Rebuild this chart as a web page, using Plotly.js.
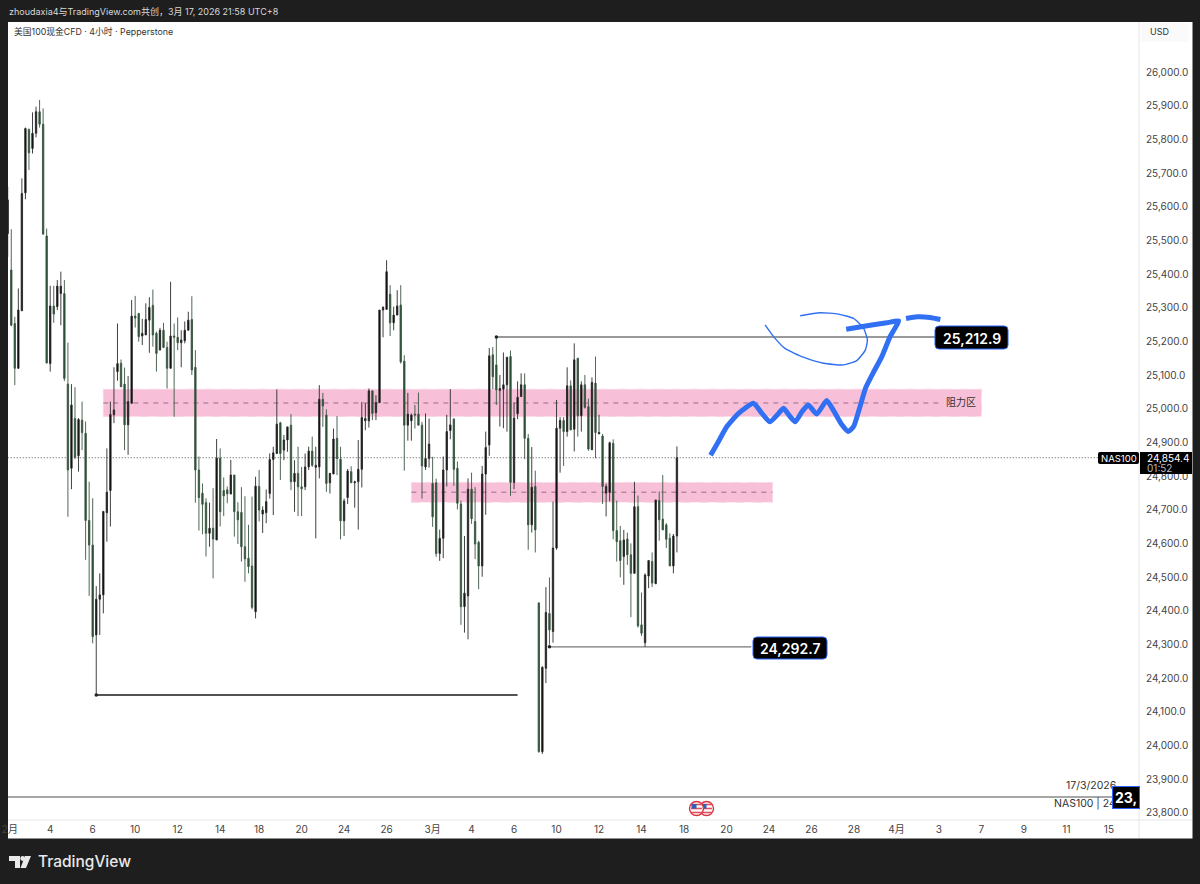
<!DOCTYPE html>
<html><head><meta charset="utf-8">
<script src="https://cdn.plot.ly/plotly-3.0.1.min.js"></script>
<style>html,body{margin:0;padding:0;background:#1e1e1e}#c{width:1200px;height:884px}</style>
</head><body><div id="c"></div>
<script>
// ---- candles: one row per 4h bar, [open, high, low, close]
const bars = [
[25520,25659,25451,25620],[25412,25533,25245,25248],[25253,25273,25070,25120],[25120,25357,25118,25293],[25291,25684,25290,25639],
[25641,25835,25622,25832],[25829,25832,25709,25760],[25773,25880,25758,25818],[25818,25897,25806,25882],[25882,25917,25835,25845],
[25845,25892,25516,25519],[25513,25535,25134,25136],[25134,25365,25110,25305],[25305,25365,25255,25281],[25303,25382,25293,25364],
[25342,25407,25248,25364],[25342,25382,25082,25090],[25073,25196,24679,24818],[24823,25073,24761,25011],[24971,25064,24850,24856],
[24860,24972,24813,24968],[24966,25021,24877,24929],[24927,24962,24551,24668],[24668,24783,24444,24595],[24595,24734,24303,24323],
[24328,24473,24150,24434],[24434,24511,24328,24447],[24447,24695,24392,24695],[24691,24882,24605,24752],[24757,25021,24650,24983],
[24982,25123,24957,24996],[25110,25253,25083,25134],[25135,25146,25065,25065],[25073,25122,24877,24952],[24952,25097,24863,25021],
[25016,25323,25015,25275],[25275,25335,25241,25269],[25283,25283,25199,25214],[25216,25267,25189,25224],[25219,25313,25219,25265],
[25263,25331,25166,25301],[25307,25354,25184,25219],[25224,25229,25110,25164],[25174,25240,25174,25233],[25233,25255,25180,25182],
[25182,25199,25060,25120],[25120,25377,25120,25216],[25216,25253,24976,25212],[25212,25271,25174,25196],[25196,25233,25123,25204],
[25202,25259,25194,25233],[25233,25288,25233,25263],[25265,25334,25100,25115],[25123,25174,24721,24818],[24818,24858,24638,24736],
[24749,24778,24627,24716],[24721,24734,24561,24630],[24630,24721,24590,24645],[24645,24764,24496,24613],[24610,24910,24610,24853],
[24853,24882,24650,24694],[24757,24796,24681,24741],[24759,24769,24719,24747],[24747,24848,24745,24803],[24803,24803,24620,24694],
[24694,24722,24598,24670],[24692,24767,24546,24590],[24590,24740,24486,24554],[24556,24655,24511,24531],[24533,24739,24404,24410],
[24397,24798,24377,24770],[24769,24818,24665,24699],[24687,24710,24631,24699],[24691,24760,24660,24724],[24748,24867,24733,24849],
[24849,24887,24684,24869],[24867,25057,24867,24954],[24958,24961,24788,24867],[24877,24922,24847,24907],[24907,24946,24872,24946],
[24951,24984,24758,24783],[24783,24847,24694,24808],[24808,24887,24681,24768],[24768,24827,24681,24762],[24768,24867,24758,24827],
[24827,24887,24818,24874],[24874,24917,24827,24832],[24826,24887,24615,24832],[24827,25070,24793,25028],[25028,25047,24946,25008],
[24981,24998,24753,24778],[24780,24808,24748,24808],[24806,24941,24806,24910],[24912,24978,24803,24852],[24850,24887,24612,24667],
[24667,24733,24622,24726],[24736,24821,24717,24815],[24813,24829,24780,24780],[24780,24786,24706,24783],[24783,24907,24641,24820],
[24820,25020,24766,24974],[24964,25016,24936,24971],[24964,25060,24944,25053],[25053,25053,24966,24986],[24988,25040,24966,25018],
[25018,25293,25018,25293],[25293,25304,25212,25301],[25295,25441,25295,25407],[25340,25367,25216,25255],[25255,25303,25233,25278],
[25278,25352,25278,25305],[25308,25367,25134,25139],[25141,25159,24816,24951],[24951,25047,24905,24984],[24964,24986,24905,24981],
[24984,25011,24941,24981],[24984,25048,24951,24951],[24951,24961,24733,24830],[24827,24986,24818,24852],[24852,24971,24825,24895],
[24778,24857,24649,24679],[24780,24792,24560,24570],[24570,24641,24548,24615],[24615,24858,24556,24818],[24818,24982,24769,24932],
[24935,25058,24909,24952],[24969,24972,24771,24820],[24823,24843,24701,24719],[24717,24727,24358,24412],[24412,24622,24335,24452],
[24444,24793,24315,24761],[24761,24810,24658,24673],[24665,24767,24553,24598],[24603,24608,24464,24533],[24533,24830,24501,24806],
[24806,24932,24685,24885],[24892,25180,24860,25157],[25160,25183,25058,25095],[25130,25212.9,25011,25056],[25054,25100,24947,25060],
[25058,25167,24942,25071],[25071,25153,24932,25153],[25155,25173,24741,24781],[24781,25018,24761,24972],[24985,25081,24969,25034],
[25036,25105,25036,25071],[25071,25105,24850,24912],[24912,24925,24581,24655],[24655,24886,24632,24767],[24769,24816,24573,24640],
[24423,24425,23978,23982],[23981,24235,23975,24232],[24229,24470,24185,24395],[24392,24499,24299,24343],[24338,24724,24305,24586],
[24586,25026,24581,24942],[24942,24975,24810,24965],[24965,24975,24830,24932],[24932,25123,24917,25068],[25068,25084,24937,24937],
[24939,25194,24873,25145],[25150,25150,24917,24979],[24979,25081,24932,25071],[25071,25100,25000,25004],[25006,25030,24875,24880],
[24878,25093,24878,25078],[25076,25155,24853,24929],[24925,24982,24925,24929],[24919,24925,24717,24769],[24749,24777,24680,24769],
[24751,24902,24725,24899],[24897,24909,24612,24638],[24638,24727,24546,24605],[24608,24652,24499,24549],[24561,24640,24477,24610],
[24613,24632,24536,24566],[24566,24600,24381,24511],[24511,24783,24511,24709],[24709,24742,24350,24355],[24358,24454,24325,24333],
[24305,24511,24292.7,24506],[24503,24549,24467,24549],[24546,24573,24470,24482],[24480,24729,24480,24729],[24727,24754,24608,24670],
[24672,24803,24640,24640],[24655,24660,24586,24612],[24615,24630,24533,24533],[24533,24628,24511,24622],[24622,24888,24573,24854.4]
];
// ---- time axis: bar numbers that carry a date label
const tickBars = [0.6,12,24,36,48,60,71,83,95,107,120,131,143,155,167,179,191,203,215,227,239,251,263,275,287,299,311];
const tickText = ["2月","4","6","10","12","14","18","20","24","26","3月","4","6","10","12","14","18","20","24","26","28","4月","3","7","9","11","15"];
// ---- price axis
const priceTicks = [23800,23900,24000,24100,24200,24300,24400,24500,24600,24700,24800,24900,25000,25100,25200,25300,25400,25500,25600,25700,25800,25900,26000];
const priceLast = 24854.4;
// ---- zones [bar from, bar to, low, mid, high]
const zones = [[27,275,24977,25017,25058],[114,216,24722,24752,24781]];
// ---- levels [bar from, bar to, price]
const levelHigh = [138,263,25212.9];
const levelLow = [153,210,24292.7];
const levelPrior = [25,144,24150];
const levelBase = [0,313,23847];
// ---- hand-drawn strokes (bar number, price)
const sketchAx = [198.5,200.7,203.1,206.4,210.6,213,215.3,217.7,219.1,221,222.4,224.3,226.1,228.5,231.3,233.7,235.6,237.4,238.9,240.7,242.3,244.5,246.8,249.2,251.6,248.3,243.6,236.8];
const sketchAy = [24862,24902,24947,24986,25016,24986,24961,24986,25001,24976,24961,24991,25011,24984,25024,24986,24952,24932,24947,25006,25062,25108,25153,25214,25261,25255,25248,25236];
const sketchBx = [213.9,216.3,219.5,224.7,230.4,236,239.8,242.2,242.8,241.7,238.9,234.6,229.4,223.8];
const sketchBy = [25249,25214,25179,25153,25135,25130,25143,25174,25204,25239,25268,25281,25285,25276];
const sketchCx = [253.7,256.8,260.5,263.4];
const sketchCy = [25268,25273,25271,25265];

const FONT = 'Inter, "Noto Sans CJK SC", sans-serif';
const L=8,R=1139,T=22,B=820;
const px=x=>(x-L)/(R-L), py=y=>1-(y-T)/(B-T);
function rr(x0,y0,x1,y1,r){
  const X=px,Y=py;
  return `M${X(x0+r)},${Y(y0)}L${X(x1-r)},${Y(y0)}Q${X(x1)},${Y(y0)} ${X(x1)},${Y(y0+r)}L${X(x1)},${Y(y1-r)}Q${X(x1)},${Y(y1)} ${X(x1-r)},${Y(y1)}L${X(x0+r)},${Y(y1)}Q${X(x0)},${Y(y1)} ${X(x0)},${Y(y1-r)}L${X(x0)},${Y(y0+r)}Q${X(x0)},${Y(y0)} ${X(x0+r)},${Y(y0)}Z`;
}
const pageShape=(path,fill,line,w,layer)=>({type:'path',xref:'paper',yref:'paper',path,fillcolor:fill,line:{color:line||fill,width:w||0},layer:layer||'above'});
const pageRect=(x0,y0,x1,y1,fill,layer)=>({type:'rect',xref:'paper',yref:'paper',x0:px(x0),x1:px(x1),y0:py(y1),y1:py(y0),fillcolor:fill,line:{width:0},layer:layer||'below'});
const note=(x,y,text,size,color,anchor,extra)=>Object.assign({xref:'paper',yref:'paper',x:px(x),y:py(y),text,showarrow:false,xanchor:anchor||'left',yanchor:'middle',font:{family:FONT,size,color},borderpad:0},extra||{});
const circle=(cx,cy,r,fill,line,w)=>({type:'circle',xref:'paper',yref:'paper',x0:px(cx-r),x1:px(cx+r),y0:py(cy+r),y1:py(cy-r),fillcolor:fill,line:{color:line,width:w||0},layer:'above'});

const shapes=[
  pageRect(8,22,1192.5,838.5,'#ffffff'),
  pageRect(1141,23,1189,42,'#fafafa'),
];
zones.forEach(z=>{
  shapes.push({type:'rect',xref:'x',yref:'y',x0:z[0],x1:z[1],y0:z[2],y1:z[4],fillcolor:'#f8c0d8',line:{color:'#fad4e4',width:1,dash:'dash'},layer:'below'});
  shapes.push({type:'line',xref:'x',yref:'y',x0:z[0],x1:z===zones[0]?z[1]-12:z[1],y0:z[3],y1:z[3],line:{color:'#9c6a8c',width:1,dash:'5px,5px'},layer:'below'});
});
const lev=(l,c,w)=>({type:'line',xref:'x',yref:'y',x0:l[0],x1:l[1],y0:l[2],y1:l[2],line:{color:c,width:w},layer:'below'});
shapes.push({type:'line',xref:'x',yref:'y',x0:0,x1:308,y0:priceLast,y1:priceLast,line:{color:'#555',width:1,dash:'1px,2px'},layer:'below'});
shapes.push(lev(levelHigh,'#777777',1.3),lev(levelLow,'#777777',1.3),lev(levelPrior,'#1a1a1a',1.5),lev(levelBase,'#8a8a8a',1.5));
shapes.push({type:'line',xref:'paper',yref:'paper',x0:1,x1:1,y0:py(838),y1:py(22),line:{color:'#e6e6e6',width:1},layer:'below'});
shapes.push({type:'line',xref:'paper',yref:'paper',x0:0,x1:px(1192),y0:0,y1:0,line:{color:'#e6e6e6',width:1},layer:'below'});
shapes.push(pageShape(rr(935,326,1008,349,4),'#000000','#2962ff',1));
shapes.push(pageShape(rr(753,637,827,659,4),'#000000','#2962ff',1));
shapes.push(pageShape(rr(1098,452,1139,464,2),'#000000'));
shapes.push(pageRect(1140,452,1192,474,'#000000','above'));
[[706.5,808.5],[696.5,808.5]].forEach(c=>{
  shapes.push(circle(c[0],c[1],7,'#ffffff','#d9313f',1.4));
  [-4,0,4].forEach(d=>shapes.push(pageRect(c[0]-5.5,c[1]+d-0.8,c[0]+5.5,c[1]+d+0.8,'#e0515e','above')));
  shapes.push(pageRect(c[0]-5,c[1]-4.5,c[0],c[1],'#2f5fb8','above'));
});
shapes.push(pageShape(`M${px(9)},${py(856)}L${px(20)},${py(856)}L${px(20)},${py(868)}L${px(15)},${py(868)}L${px(15)},${py(861)}L${px(9)},${py(861)}Z`,'#e9e9e9'));
shapes.push(circle(22.7,858.5,2.4,'#e9e9e9','#e9e9e9',0));
shapes.push(pageShape(`M${px(25)},${py(856)}L${px(31)},${py(856)}L${px(26)},${py(868)}L${px(20.5)},${py(868)}Z`,'#e9e9e9'));

const boldWhite=s=>({font:{family:FONT,size:s,color:'#fff',weight:600}});
const annotations=[
  note(8,11,'zhoudaxia4与TradingView.com共创，3月 17, 2026 21:58 UTC+8',9,'#d8d8d8'),
  note(13,31.5,'美国100现金CFD · 4小时 · Pepperstone',8.8,'#333333'),
  note(1149,32,'USD',9,'#333333'),
  note(961,402,'阻力区',10,'#333333','center'),
  note(971.5,338,'25,212.9',14,'#ffffff','center',boldWhite(14)),
  note(790,648,'24,292.7',14,'#ffffff','center',boldWhite(14)),
  note(1118.5,458,'NAS100',9.5,'#ffffff','center'),
  note(1146,458,'24,854.4',10,'#ffffff'),
  note(1146,468,'01:52',10,'#bbbbbb'),
  note(1116.5,785,'17/3/2026',10.5,'#333333','right'),
  note(1053,803,'NAS100 | 24',10.5,'#333333'),
  {xref:'paper',yref:'paper',x:px(1125.5),y:py(797.5),xanchor:'center',yanchor:'middle',text:'<b>23,</b>',showarrow:false,width:26,height:21,bgcolor:'#000000',bordercolor:'#2962ff',borderwidth:1,borderpad:0,align:'center',font:{family:FONT,size:14,color:'#ffffff'}},
  note(37,861.5,'TradingView',17,'#e9e9e9','left',{font:{family:FONT,size:15.5,color:'#e9e9e9',weight:500}}),
];

const idx=bars.map((_,i)=>i);
const sketch=(x,y,w)=>({type:'scatter',mode:'lines',x,y,hoverinfo:'skip',line:{color:'#3170f2',width:w,shape:'spline',smoothing:0.5},showlegend:false});
const traces=[
 {type:'candlestick',x:idx,open:bars.map(b=>b[0]),high:bars.map(b=>b[1]),low:bars.map(b=>b[2]),close:bars.map(b=>b[3]),
  increasing:{line:{color:'#2a2a2a',width:0.9},fillcolor:'#000000'},
  decreasing:{line:{color:'#3b5642',width:0.9},fillcolor:'#1f4d2a'},
  whiskerwidth:0,showlegend:false},
 sketch(sketchBx,sketchBy,1.4),
 sketch(sketchAx,sketchAy,5),
 sketch(sketchCx,sketchCy,5),
 {type:'scatter',mode:'markers',x:[levelHigh[0],levelLow[0],levelPrior[0]],y:[levelHigh[2],levelLow[2],levelPrior[2]],marker:{size:3.5,color:'#222'},hoverinfo:'skip',showlegend:false}
];
const layout={
  width:1200,height:884,paper_bgcolor:'#1e1e1e',plot_bgcolor:'rgba(0,0,0,0)',showlegend:false,boxgap:0.45,
  margin:{l:L,r:1200-R,t:T,b:884-B,pad:0},
  font:{family:FONT,size:10,color:'#333'},
  xaxis:{type:'linear',range:[0.08,319.5],tickmode:'array',tickvals:tickBars,ticktext:tickText,ticks:'',showgrid:false,zeroline:false,showline:false,rangeslider:{visible:false},tickfont:{family:FONT,size:10,color:'#444'},ticklabelstandoff:2},
  yaxis:{type:'linear',side:'right',range:[23778.4,26148.5],tickmode:'array',tickvals:priceTicks,tickformat:',.1f',ticks:'',showgrid:false,zeroline:false,showline:false,tickfont:{family:FONT,size:10,color:'#444'},ticklabelstandoff:6},
  shapes,annotations
};
Plotly.newPlot('c',traces,layout,{displayModeBar:false,staticPlot:true});
</script></body></html>
